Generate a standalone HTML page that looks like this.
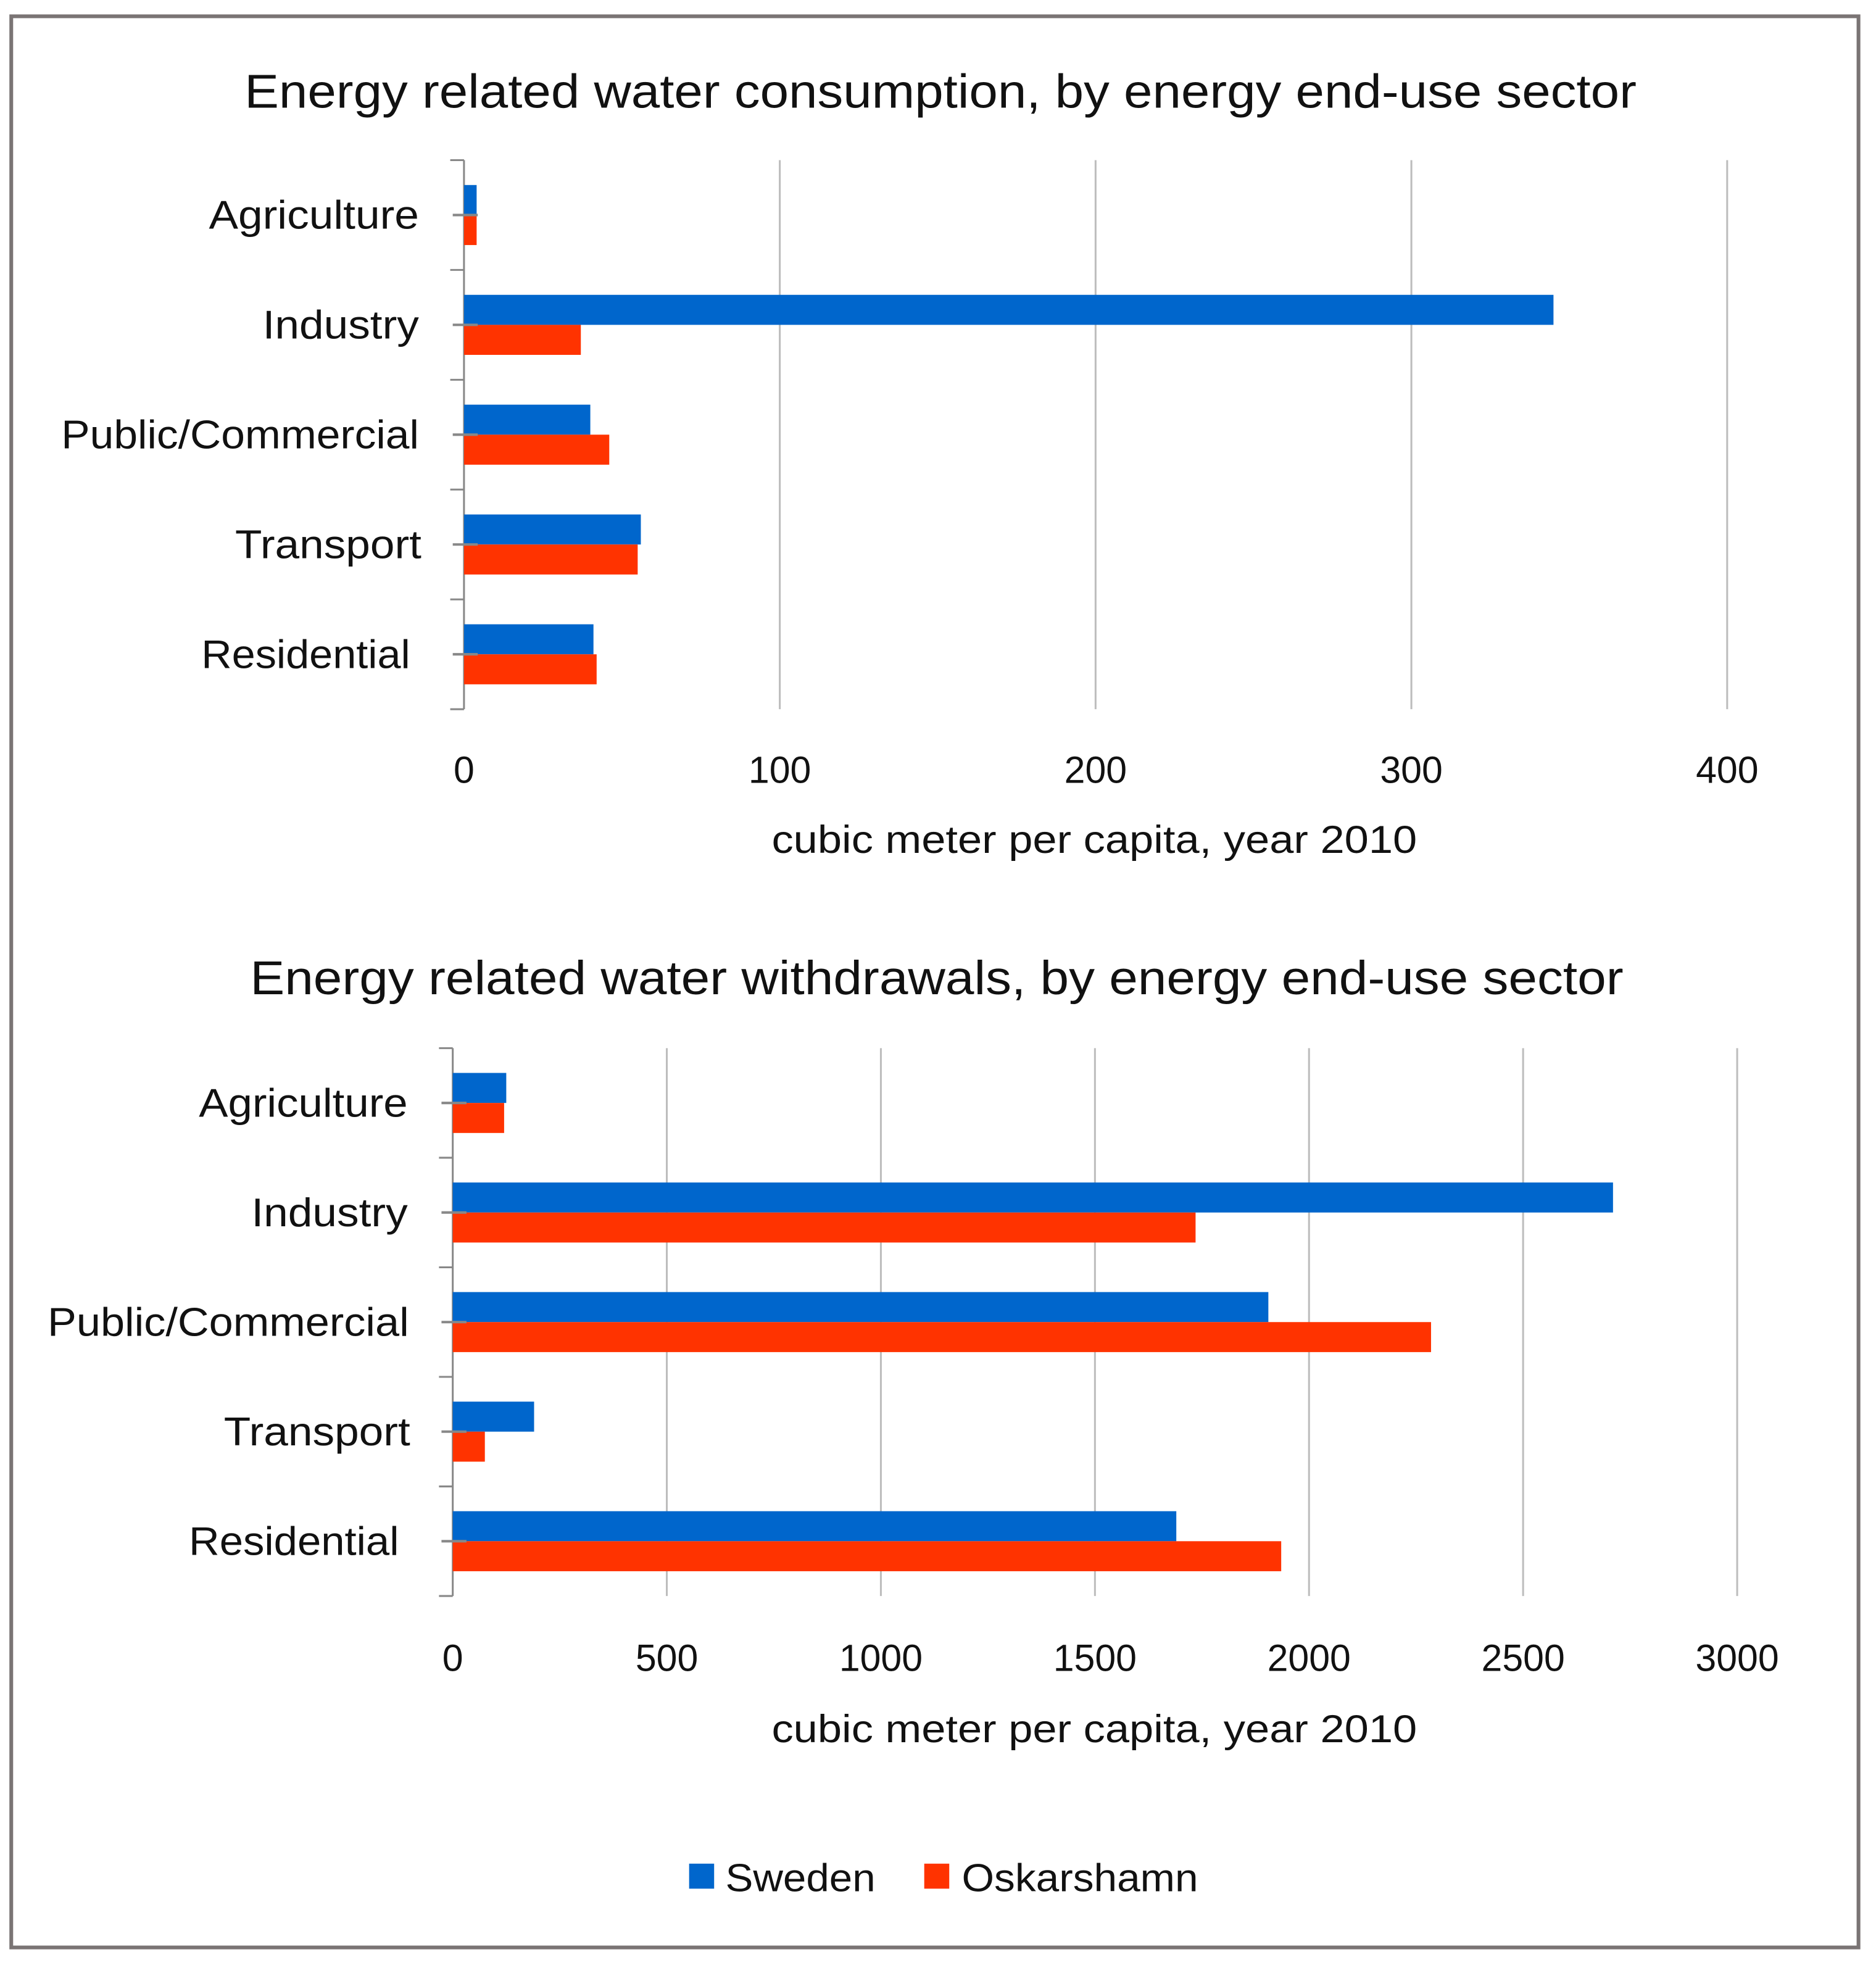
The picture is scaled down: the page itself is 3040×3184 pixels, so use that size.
<!DOCTYPE html>
<html><head><meta charset="utf-8"><style>
html,body{margin:0;padding:0;background:#fff}
svg{display:block}
text{font-family:"Liberation Sans",sans-serif;fill:#111}
</style></head><body>
<svg id="c" width="3040" height="3184" viewBox="0 0 1500 1571" xmlns="http://www.w3.org/2000/svg">
<rect x="9" y="13" width="1477" height="1544" fill="#fff" stroke="#7a7474" stroke-width="3"/>
<g id="g1"></g>
<g id="g2"></g>
<g>
<rect x="551" y="1490" width="20" height="20" fill="#0066CC"/>
<text x="580" y="1512" font-size="31" textLength="120" lengthAdjust="spacingAndGlyphs">Sweden</text>
<rect x="739" y="1490" width="20" height="20" fill="#FF3300"/>
<text x="769" y="1512" font-size="31" textLength="189" lengthAdjust="spacingAndGlyphs">Oskarshamn</text>
</g>
</svg>
<script>
const categories = ["Agriculture","Industry","Public/Commercial","Transport","Residential"];
const consSweden = [4,345,40,56,41];
const consOskar = [4,37,46,55,42];
const consTicks = [0,100,200,300,400];
const withSweden = [125,2710,1905,190,1690];
const withOskar = [120,1735,2285,75,1935];
const withTicks = [0,500,1000,1500,2000,2500,3000];
const NS="http://www.w3.org/2000/svg";
function mk(g,tag,attrs,txt){const e=document.createElementNS(NS,tag);for(const k in attrs)e.setAttribute(k,attrs[k]);if(txt!==undefined)e.textContent=txt;g.appendChild(e);return e;}
function draw(gid,cfg){
  const g=document.getElementById(gid);
  const x=v=>cfg.x0+(v-cfg.min)/(cfg.max-cfg.min)*(cfg.x1-cfg.x0);
  const band=(cfg.y1-cfg.y0)/categories.length;
  let t=mk(g,'text',{x:cfg.titleX,y:cfg.titleY,'font-size':38,'text-anchor':'middle',textLength:cfg.titleW,lengthAdjust:'spacingAndGlyphs'},cfg.title);
  
  
  cfg.ticks.forEach(v=>{
    if(v>cfg.min){
      const l=mk(g,'line',{x1:x(v),x2:x(v),y1:cfg.y0,y2:cfg.y1,stroke:'#bdbdbd','stroke-width':1.5});
      
      
    }
    const tl=mk(g,'text',{x:x(v),y:cfg.tickY,'font-size':30,'text-anchor':'middle'},String(v));
    
    
  });
  const ax=mk(g,'line',{x1:x(0),x2:x(0),y1:cfg.y0,y2:cfg.y1,stroke:'#888','stroke-width':1.5});
  
  
  for(let i=0;i<=categories.length;i++){
    const tk=mk(g,'line',{x1:x(0)-11,x2:x(0),y1:cfg.y0+i*band,y2:cfg.y0+i*band,stroke:'#888','stroke-width':1.5});
    
    
  }
  categories.forEach((c,i)=>{
    const mid=cfg.y0+i*band+band/2;
    const lb=mk(g,'text',{x:cfg.labelX[i],y:mid+11,'font-size':32,'text-anchor':'end',textLength:cfg.labelW[i],lengthAdjust:'spacingAndGlyphs'},c);
    
    
    const bh=24;
    const b1=mk(g,'rect',{x:x(0),y:mid-bh,width:x(cfg.s1[i])-x(0),height:bh,fill:'#0066CC'});
    
    
    const b2=mk(g,'rect',{x:x(0),y:mid,width:x(cfg.s2[i])-x(0),height:bh,fill:'#FF3300'});
    
    
    const m=mk(g,'line',{x1:x(0)-9,x2:x(0)+11,y1:mid,y2:mid,stroke:'#888','stroke-width':2});
    
    
  });
  const at=mk(g,'text',{x:875,y:cfg.axisTitleY,'font-size':31,'text-anchor':'middle',textLength:516,lengthAdjust:'spacingAndGlyphs'},'cubic meter per capita, year 2010');
  
  
}
draw('g1',{title:'Energy related water consumption, by energy end-use sector',titleX:752,titleY:86,titleW:1113,
  x0:371,x1:1381,min:0,max:400,y0:128,y1:567,ticks:consTicks,s1:consSweden,s2:consOskar,
  tickY:626,axisTitleY:682,labelX:[335,335,335,337,328],labelW:[168,125,286,149,167]});
draw('g2',{title:'Energy related water withdrawals, by energy end-use sector',titleX:749,titleY:795,titleW:1098,
  x0:362,x1:1389,min:0,max:3000,y0:838,y1:1276,ticks:withTicks,s1:withSweden,s2:withOskar,
  tickY:1336,axisTitleY:1393,labelX:[326,326,327,328,319],labelW:[167,125,289,149,168]});
</script>
</body></html>
